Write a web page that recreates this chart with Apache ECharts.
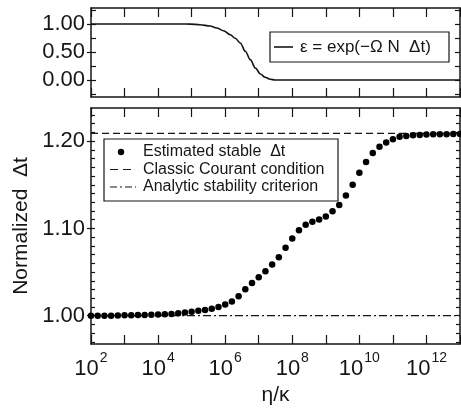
<!DOCTYPE html>
<html>
<head>
<meta charset="utf-8">
<script src="https://cdn.jsdelivr.net/npm/echarts@6/dist/echarts.min.js"></script>
<style>
  html, body { margin: 0; padding: 0; background: #ffffff; }
  #chart { width: 461px; height: 411px; }
</style>
</head>
<body>
<div id="chart"></div>
<script>
// log10(η/κ) of each run in the stability scan
const scanExponents = [
  2.0, 2.2, 2.4, 2.6, 2.8, 3.0, 3.2, 3.4, 3.6, 3.8,
  4.0, 4.2, 4.4, 4.6, 4.8, 5.0, 5.2, 5.4, 5.6, 5.8,
  6.0, 6.2, 6.4, 6.6, 6.8, 7.0, 7.2, 7.4, 7.6, 7.8,
  8.0, 8.2, 8.4, 8.6, 8.8, 9.0, 9.2, 9.4, 9.6, 9.8,
  10.0, 10.2, 10.4, 10.6, 10.8, 11.0, 11.2, 11.4, 11.6, 11.8,
  12.0, 12.2, 12.4, 12.6, 12.8, 13.0
];
// estimated stable time step, normalized
const stableDt = [
  1.0000, 1.0000, 1.0000, 1.0000, 1.0002, 1.0004, 1.0005, 1.0007, 1.0009, 1.0011,
  1.0013, 1.0016, 1.0021, 1.0028, 1.0036, 1.0045, 1.0056, 1.0066, 1.0080, 1.0100,
  1.0130, 1.0163, 1.0223, 1.0302, 1.0374, 1.0440, 1.0510, 1.0586, 1.0670, 1.0779,
  1.0886, 1.0980, 1.1042, 1.1076, 1.1103, 1.1136, 1.1196, 1.1270, 1.1378, 1.1500,
  1.1639, 1.1762, 1.1863, 1.1936, 1.1986, 1.2022, 1.2050, 1.2059, 1.2067, 1.2070,
  1.2075, 1.2078, 1.2078, 1.2080, 1.2082, 1.2082
];
const courantDt = 1.209;   // classic Courant condition
const analyticDt = 1.0;    // analytic stability criterion

// ε = exp(-Ω N Δt) along η/κ
const epsExponents = [2.0, 3.0, 4.0, 4.66, 4.96, 5.25, 5.55, 5.75, 5.95, 6.15, 6.30, 6.45,
                      6.60, 6.75, 6.90, 7.05, 7.19, 7.34, 7.49, 8.0, 9.0, 10.0, 11.0, 12.0, 13.0];
const epsValues    = [1.0, 1.0, 1.0, 1.0, 0.998, 0.9875, 0.964, 0.929, 0.880, 0.809, 0.745, 0.661,
                      0.512, 0.363, 0.214, 0.107, 0.048, 0.012, 0.0, 0.0, 0.0, 0.0, 0.0, 0.0, 0.0];

// axis ticks and labels
const xTickExponents  = [2, 3, 4, 5, 6, 7, 8, 9, 10, 11, 12, 13];
const xLabelExponents = [2, 4, 6, 8, 10, 12];
const topYTicks  = [-0.25, 0, 0.25, 0.5, 0.75, 1.0, 1.25];
const topYLabels = [0, 0.5, 1.0];
const botYTicks  = [0.97, 0.98, 0.99, 1.00, 1.01, 1.02, 1.03, 1.04, 1.05, 1.06, 1.07, 1.08, 1.09,
                    1.10, 1.11, 1.12, 1.13, 1.14, 1.15, 1.16, 1.17, 1.18, 1.19, 1.20, 1.21, 1.22, 1.23];
const botYLabels = [1.00, 1.10, 1.20];

const toEta = e => Math.pow(10, e);
const INK = '#161616';
const FONT = 'Liberation Sans';

const chart = echarts.init(document.getElementById('chart'), null, { renderer: 'canvas' });

const frameLine = { show: true, onZero: false, lineStyle: { color: INK, width: 1.5 } };

function xAxisFor(gridIndex, position, withLabels) {
  const ax = {
    type: 'log', logBase: 10, gridIndex, position,
    min: 1e2, max: 1e13,
    axisLine: frameLine,
    splitLine: { show: false },
    axisTick: { show: true, inside: true, length: 9, lineStyle: { color: INK, width: 1.2 },
                customValues: xTickExponents.map(toEta) },
    axisLabel: { show: false }
  };
  if (withLabels) {
    ax.axisLabel = {
      show: true, margin: 5,
      customValues: xLabelExponents.map(toEta),
      formatter: v => '{b|10}{s|' + Math.round(Math.log10(v)) + '}',
      rich: {
        b: { fontFamily: FONT, fontSize: 22, color: INK, lineHeight: 31, verticalAlign: 'bottom' },
        s: { fontFamily: FONT, fontSize: 14, color: INK, lineHeight: 31, verticalAlign: 'top', padding: [2, 0, 0, 1] }
      }
    };
    ax.name = 'η/κ';
    ax.nameLocation = 'middle';
    ax.nameGap = 41;
    ax.nameTextStyle = { fontFamily: FONT, fontSize: 21, color: INK };
  }
  return ax;
}

function yAxisFor(gridIndex, position, range, ticks, opts) {
  return Object.assign({
    type: 'value', gridIndex, position,
    min: range[0], max: range[1],
    splitLine: { show: false },
    axisLine: opts.line ? frameLine : { show: false },
    axisTick: { show: true, inside: opts.inside, length: opts.len,
                lineStyle: { color: INK, width: 1.2 }, customValues: ticks },
    axisLabel: opts.labels ? {
      show: true, margin: 6, customValues: opts.labels,
      formatter: v => v.toFixed(2),
      fontFamily: FONT, fontSize: 22, color: INK
    } : { show: false }
  }, opts.extra || {});
}

const topRange = [-0.304, 1.286];
const botRange = [0.9676, 1.238];

const option = {
  animation: false,
  backgroundColor: '#ffffff',
  grid: [
    { left: 91, top: 8, width: 369, height: 89 },
    { left: 91, top: 108, width: 369, height: 242 }
  ],
  xAxis: [
    xAxisFor(0, 'bottom', false),
    xAxisFor(0, 'top', false),
    xAxisFor(1, 'bottom', true),
    xAxisFor(1, 'top', false)
  ],
  yAxis: [
    yAxisFor(0, 'left', topRange, topYLabels, { line: true, inside: false, len: 4, labels: topYLabels }),
    yAxisFor(0, 'left', topRange, topYTicks, { line: false, inside: true, len: 5 }),
    yAxisFor(0, 'right', topRange, topYTicks, { line: true, inside: true, len: 5 }),
    yAxisFor(1, 'left', botRange, botYLabels, { line: true, inside: false, len: 4, labels: botYLabels,
      extra: { name: 'Normalized  Δt', nameLocation: 'middle', nameGap: 49,
               nameTextStyle: { fontFamily: FONT, fontSize: 21, color: INK } } }),
    yAxisFor(1, 'left', botRange, botYTicks, { line: false, inside: true, len: 4 }),
    yAxisFor(1, 'right', botRange, botYTicks, { line: true, inside: true, len: 4 })
  ],
  series: [
    {
      name: 'ε', type: 'line', xAxisIndex: 0, yAxisIndex: 0,
      data: epsExponents.map((e, i) => [toEta(e), epsValues[i]]),
      smooth: 0.35, smoothMonotone: 'x', symbol: 'none',
      lineStyle: { color: INK, width: 1.6 }, z: 3
    },
    {
      name: 'Classic Courant condition', type: 'line', xAxisIndex: 2, yAxisIndex: 3,
      data: [[1e2, courantDt], [1e13, courantDt]], symbol: 'none',
      lineStyle: { color: INK, width: 1.2, type: [7, 4] }, z: 2
    },
    {
      name: 'Analytic stability criterion', type: 'line', xAxisIndex: 2, yAxisIndex: 3,
      data: [[1e2, analyticDt], [1e13, analyticDt]], symbol: 'none',
      lineStyle: { color: INK, width: 1.2, type: [8, 3, 2, 3] }, z: 2
    },
    {
      name: 'Estimated stable Δt', type: 'scatter', xAxisIndex: 2, yAxisIndex: 3,
      data: scanExponents.map((e, i) => [toEta(e), stableDt[i]]),
      symbol: 'circle', symbolSize: 6.5,
      itemStyle: { color: '#000000', opacity: 1 }, z: 4
    }
  ],
  graphic: [
    // legend of the upper panel
    { type: 'rect', shape: { x: 270, y: 32, width: 179, height: 30 },
      style: { fill: '#ffffff', stroke: INK, lineWidth: 1.2 }, z: 10 },
    { type: 'line', shape: { x1: 274, y1: 47, x2: 293, y2: 47 },
      style: { stroke: INK, lineWidth: 1.6 }, z: 11 },
    { type: 'text', x: 300, y: 47, z: 11,
      style: { text: 'ε = exp(−Ω N  Δt)', fontFamily: FONT, fontSize: 17, fill: INK, verticalAlign: 'middle' } },
    // legend of the lower panel
    { type: 'rect', shape: { x: 104, y: 139, width: 234, height: 62 },
      style: { fill: '#ffffff', stroke: INK, lineWidth: 1.2 }, z: 10 },
    { type: 'circle', shape: { cx: 121, cy: 152, r: 3.2 }, style: { fill: '#000000' }, z: 11 },
    { type: 'line', shape: { x1: 110, y1: 169.5, x2: 136, y2: 169.5 },
      style: { stroke: INK, lineWidth: 1.2, lineDash: [8, 5] }, z: 11 },
    { type: 'line', shape: { x1: 110, y1: 187, x2: 136, y2: 187 },
      style: { stroke: INK, lineWidth: 1.2, lineDash: [7, 3, 2, 3] }, z: 11 },
    { type: 'text', x: 143, y: 152, z: 11,
      style: { text: 'Estimated stable  Δt', fontFamily: FONT, fontSize: 16, fill: INK, verticalAlign: 'middle' } },
    { type: 'text', x: 143, y: 169.5, z: 11,
      style: { text: 'Classic Courant condition', fontFamily: FONT, fontSize: 16, fill: INK, verticalAlign: 'middle' } },
    { type: 'text', x: 143, y: 187, z: 11,
      style: { text: 'Analytic stability criterion', fontFamily: FONT, fontSize: 16, fill: INK, verticalAlign: 'middle' } }
  ]
};

chart.setOption(option);
</script>
</body>
</html>
